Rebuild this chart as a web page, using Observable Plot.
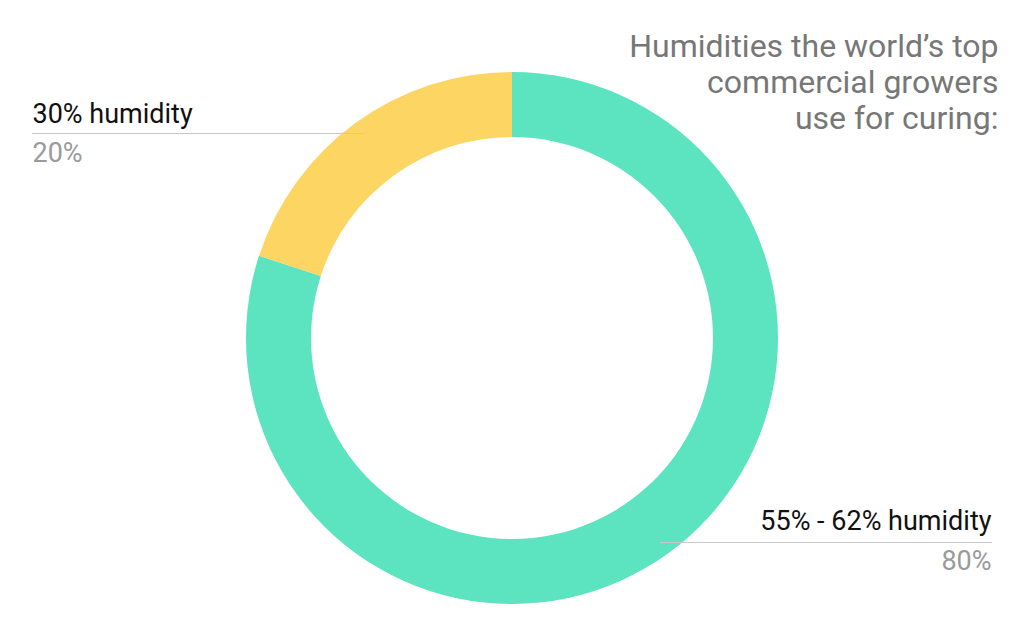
<!DOCTYPE html>
<html>
<head>
<meta charset="utf-8">
<script src="https://cdn.jsdelivr.net/npm/d3@7"></script>
<script src="https://cdn.jsdelivr.net/npm/@observablehq/plot@0.6"></script>
<style>
  html, body { margin: 0; padding: 0; background: #fff; }
  #chart svg { display: block; font-family: Roboto, "Noto Sans", sans-serif; }
</style>
</head>
<body>
<div id="chart"></div>
<script>
const categories = ["55% - 62% humidity", "30% humidity"];
const shares = [80, 20];
const shareLabels = ["80%", "20%"];
const sliceColors = ["#5ce3c0", "#fdd563"];
const titleLines = ["Humidities the world\u2019s top", "commercial growers", "use for curing:"];

const data = categories.map((c, i) => ({category: c, value: shares[i], pct: shareLabels[i]}));

const W = 1024, H = 635;
const cx = 512, cy = 338, rOuter = 266, rInner = 201;

function donut(index, scales, values, dimensions) {
  const pie = d3.pie().sort(null).value(d => d.value)(data);
  const arc = d3.arc().innerRadius(rInner).outerRadius(rOuter);
  const g = d3.create("svg:g").attr("transform", `translate(${cx},${cy})`);
  g.selectAll("path").data(pie).join("path")
    .attr("d", arc)
    .attr("fill", d => scales.color(d.data.category));
  return g.node();
}

const leftLabel = data[1], rightLabel = data[0];

const plot = Plot.plot({
  width: W, height: H,
  margin: 0,
  x: {domain: [0, W], range: [0, W], axis: null},
  y: {domain: [0, H], range: [0, H], axis: null},
  color: {domain: categories, range: sliceColors},
  style: {fontFamily: "Roboto, 'Noto Sans', sans-serif", background: "#fff"},
  marks: [
    donut,
    Plot.ruleY([133], {x1: 32, x2: 364, stroke: "#c8c8c8", strokeWidth: 1}),
    Plot.ruleY([542], {x1: 660, x2: 992, stroke: "#c8c8c8", strokeWidth: 1}),
    Plot.text([leftLabel], {x: 32, y: 114, text: d => d.category, textAnchor: "start", fontSize: 27, fill: "#111"}),
    Plot.text([leftLabel], {x: 32, y: 153, text: d => d.pct, textAnchor: "start", fontSize: 27, fill: "#9a9a9a"}),
    Plot.text([rightLabel], {x: 991, y: 521, text: d => d.category, textAnchor: "end", fontSize: 27, fill: "#111"}),
    Plot.text([rightLabel], {x: 991, y: 561, text: d => d.pct, textAnchor: "end", fontSize: 27, fill: "#9a9a9a"}),
    Plot.text(titleLines, {x: 998, y: (d, i) => 46.5 + i * 36, text: d => d, textAnchor: "end", fontSize: 32, fill: "#777"})
  ]
});
document.getElementById("chart").appendChild(plot);
</script>
</body>
</html>
